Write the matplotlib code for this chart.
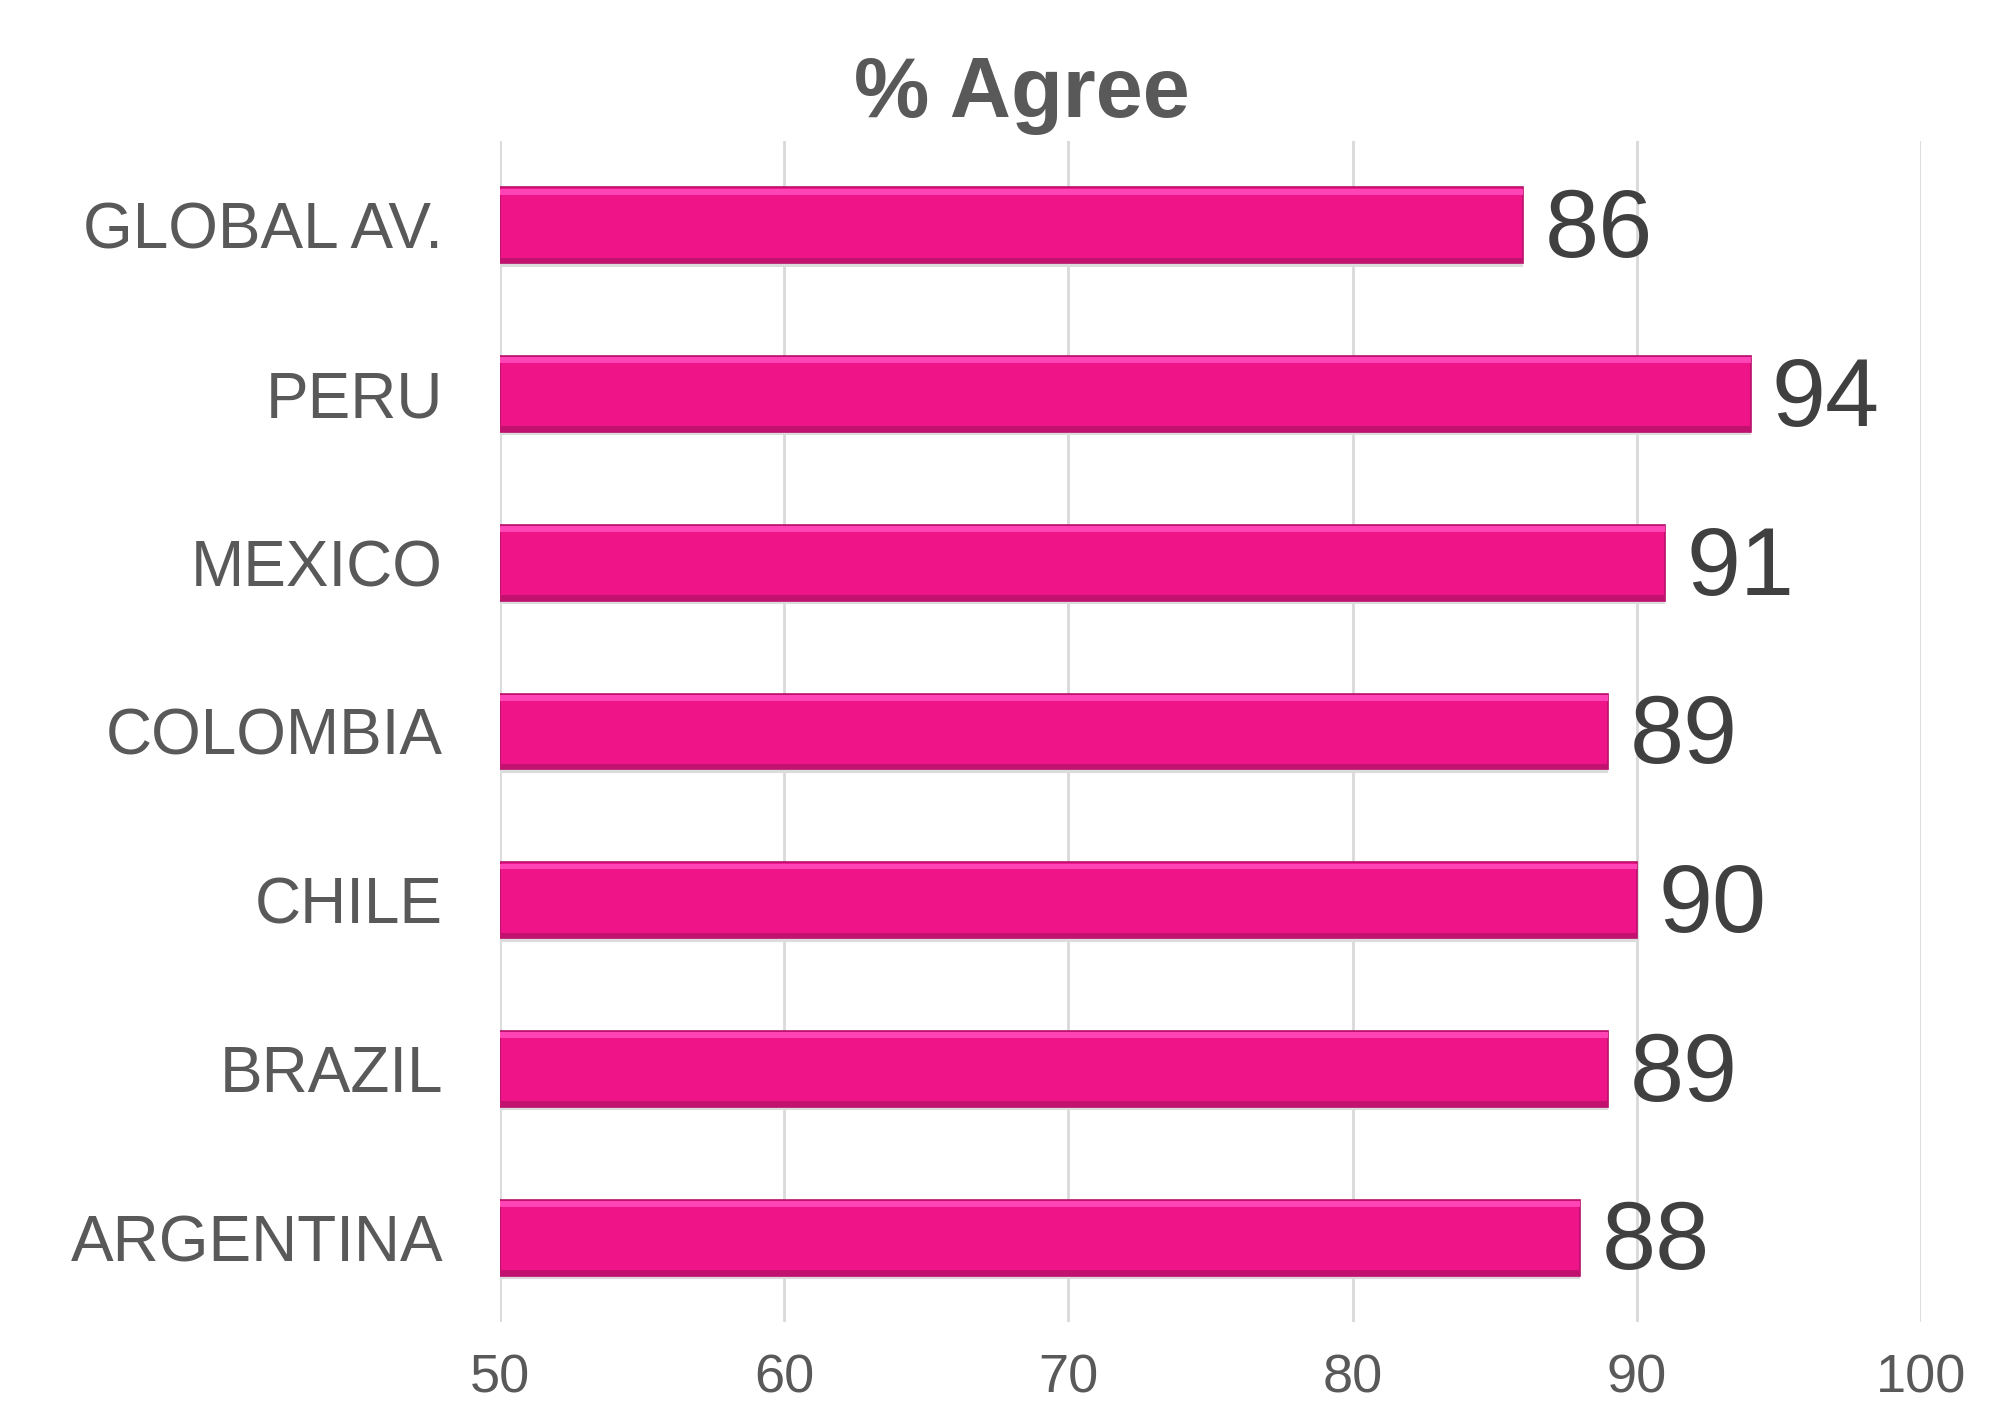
import matplotlib.pyplot as plt
import numpy as np

countries = ['ARGENTINA', 'BRAZIL', 'CHILE', 'COLOMBIA', 'MEXICO', 'PERU', 'GLOBAL AV.']
agree = [88, 89, 90, 89, 91, 94, 86]
ticks = [50, 60, 70, 80, 90, 100]

plt.rcParams['font.family'] = ['Liberation Sans', 'DejaVu Sans']

fig = plt.figure(figsize=(20.12, 14.04), dpi=100)
ax = fig.add_axes([0.2485, 0.0584, 0.7063, 0.8412])

y = np.arange(len(countries))
h = 0.45
base = 50
widths = [v - base for v in agree]

# soft shadow, main bar, then bevel strips
ax.barh(y - 0.02, widths, left=base, height=h, color='#dcdcdc', zorder=2)
ax.barh(y, widths, left=base, height=h, color='#ef1589', edgecolor='#b8106a',
        linewidth=1.2, zorder=3)
ax.barh(y + h / 2 - 0.025, widths, left=base, height=0.035, color='#ff45b5',
        linewidth=0, zorder=4)
ax.barh(y - h / 2 + 0.018, widths, left=base, height=0.03, color='#c2126f',
        linewidth=0, zorder=4)

for yi, v in zip(y, agree):
    ax.text(v + 0.75, yi - 0.04, str(v), fontsize=70, color='#404040',
            va='center', ha='left', zorder=5)

ax.set_xlim(50, 100)
ax.set_ylim(-0.5, 6.5)
ax.set_xticks(ticks)
ax.set_yticks(y)
ax.set_yticklabels(countries, fontsize=46)
ax.grid(axis='x', color='#d9d9d9', linewidth=2, zorder=0)
for s in ax.spines.values():
    s.set_visible(False)
ax.tick_params(axis='both', length=0, colors='#595959')
ax.tick_params(axis='x', labelsize=39, pad=23)
ax.tick_params(axis='y', pad=41)

fig.text(0.508, 0.917, '% Agree', fontsize=61, fontweight='bold', color='#595959',
         ha='center', va='baseline')

fig.savefig('out.png', dpi=100)
